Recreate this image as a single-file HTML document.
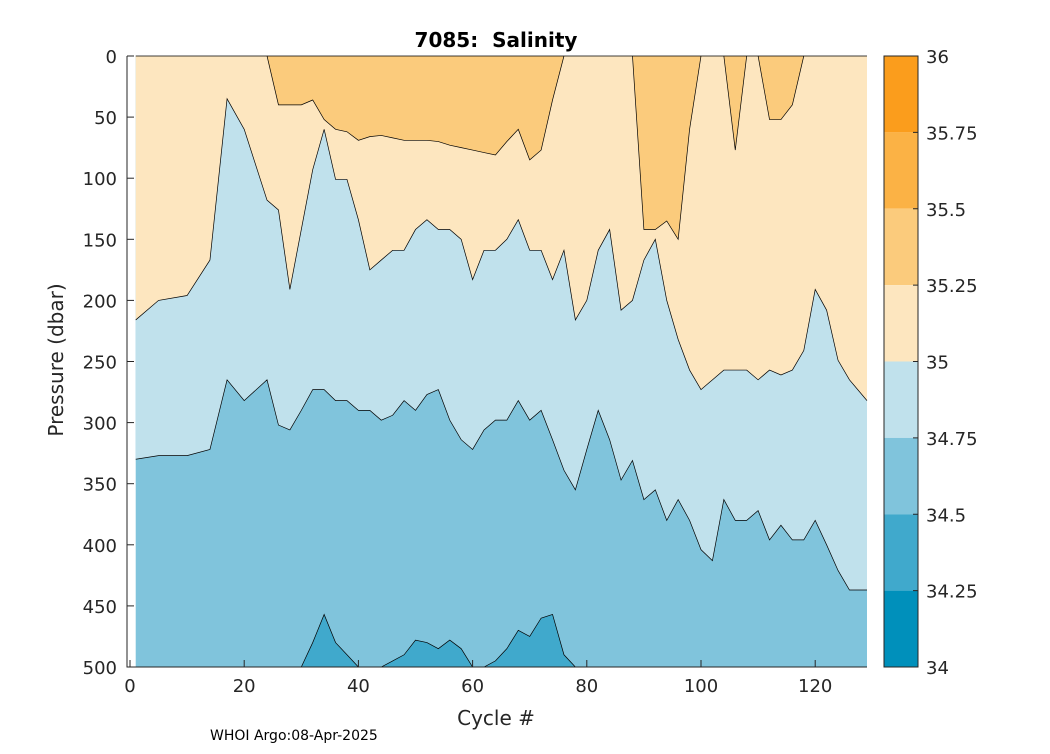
<!DOCTYPE html>
<html><head><meta charset="utf-8"><style>
body{margin:0;background:#fff;font-family:"DejaVu Sans",sans-serif}
svg text{font-family:"DejaVu Sans","Liberation Sans",sans-serif;fill:#262626}
</style></head><body>
<svg id="chart" width="1050" height="750" viewBox="0 0 1050 750" xmlns="http://www.w3.org/2000/svg">
<rect width="1050" height="750" fill="#fff"/>
<g id="plot"></g>
<g id="axes"></g>
<g id="cbar"></g>
<text x="496" y="47" text-anchor="middle" font-size="20" font-weight="bold" style="fill:#000">7085:&#160; Salinity</text>
<text x="496" y="725" text-anchor="middle" font-size="20">Cycle #</text>
<text transform="translate(63,360) rotate(-90)" text-anchor="middle" font-size="20">Pressure (dbar)</text>
<text x="210" y="740" font-size="14" style="fill:#000">WHOI Argo:08-Apr-2025</text>
</svg>
<script>
const cycles=[2,5,10,14,17,20,24,26,28,30,32,34,36,38,40,42,44,46,48,50,52,54,56,58,60,62,64,66,68,70,72,74,76,78,80,82,84,86,88,90,92,94,96,98,100,102,104,106,108,110,112,114,116,118,120,122,124,126,127];
const depth35=[216,200,196,167,35,60,118,126,191,142,93,60,101,101,134,175,167,159,159,142,134,142,142,150,183,159,159,150,134,159,159,183,159,216,200,159,142,208,200,167,150,200,232,257,273,265,257,257,257,265,257,261,257,241,191,208,249,265,282];
const depth3475=[330,327,327,322,265,282,265,302,306,290,273,273,282,282,290,290,298,294,282,290,277,273,298,314,322,306,298,298,282,298,290,314,339,355,322,290,314,347,331,363,355,380,363,380,404,413,363,380,380,372,396,384,396,396,380,400,421,437,437];
const depth3525=[0,0,0,0,0,0,0,40,40,40,36,52,60,62,69,66,65,67,69,69,69,70,73,75,77,79,81,70,60,85,77,36,0,0,0,0,0,0,0,142,142,135,150,60,0,0,0,77,0,0,52,52,40,0,0,0,0,0,0];
const depth345=[500,500,500,500,500,500,500,500,500,500,480,457,480,490,500,500,500,495,490,478,480,485,478,485,500,500,495,485,470,475,460,457,490,500,500,500,500,500,500,500,500,500,500,500,500,500,500,500,500,500,500,500,500,500,500,500,500,500,500];
const cbLevels=[36,35.75,35.5,35.25,35,34.75,34.5,34.25,34];
const cbColors=["#fb9d1c","#fbb245","#fbcb7c","#fde6bf","#c0e1ec","#80c4dc","#40a9cc","#0090bb"];
const xTicks=[0,20,40,60,80,100,120];
const yTicks=[0,50,100,150,200,250,300,350,400,450,500];

const NS="http://www.w3.org/2000/svg";
const L=130,R=867,T=56,B=667;
const xs=c=>L+c*5.71;
const ys=d=>T+d*(B-T)/500;
function mk(tag,attrs,parent){const e=document.createElementNS(NS,tag);for(const k in attrs)e.setAttribute(k,attrs[k]);parent.appendChild(e);return e;}
const plot=document.getElementById('plot');
const x0=xs(1),x1=R;
function xAt(i){if(i===0)return x0;if(i===cycles.length-1)return x1;return xs(cycles[i]);}
let e=mk('rect',{x:x0,y:T,width:x1-x0,height:B-T,fill:cbColors[5]},plot);


function bandTop(arr,color,name){
  let d=`M${x0},${T}`;arr.forEach((v,i)=>{d+=` L${xAt(i)},${ys(v)}`;});d+=` L${x1},${T} Z`;
  const p=mk('path',{d:d,fill:color,stroke:'none'},plot);
  
  
  let l='';arr.forEach((v,i)=>{l+=(i?' L':'M')+xAt(i)+','+ys(v);});
  const ln=mk('path',{d:l,fill:'none',stroke:'#000','stroke-width':0.7},plot);
  
  
}
bandTop(depth3475,cbColors[4],'band-35');
bandTop(depth35,cbColors[3],'band-35-25');
let od=`M${x0},${T}`;depth3525.forEach((v,i)=>{od+=` L${xAt(i)},${ys(v)}`;});od+=` L${x1},${T} Z`;
e=mk('path',{d:od,fill:cbColors[2],stroke:'#000','stroke-width':0.7},plot);


let bd=`M${x0},${B}`;depth345.forEach((v,i)=>{bd+=` L${xAt(i)},${ys(v)}`;});bd+=` L${x1},${B} Z`;
e=mk('path',{d:bd,fill:cbColors[6],stroke:'#000','stroke-width':0.7},plot);


const ax=document.getElementById('axes');
e=mk('path',{d:`M${L-3},${T} L${L-3},${B} L${R},${B}`,fill:'none',stroke:'#262626','stroke-width':1},ax);


xTicks.forEach(t=>{const x=xs(t);
  mk('line',{x1:x,x2:x,y1:B,y2:B-7,stroke:'#262626'},ax);
  const tx=mk('text',{x:x,y:B+25,'text-anchor':'middle','font-size':18},ax);tx.textContent=t;
  
  
});
yTicks.forEach(t=>{const y=ys(t);
  mk('line',{x1:L-3,x2:L+4,y1:y,y2:y,stroke:'#262626'},ax);
  const tx=mk('text',{x:L-13,y:y+7,'text-anchor':'end','font-size':18},ax);tx.textContent=t;
  
  
});
const cb=document.getElementById('cbar');
const CL=884,CR=918;
const cy=v=>T+(36-v)/2*(B-T);
cbColors.forEach((c,i)=>{
  const r=mk('rect',{x:CL,y:cy(cbLevels[i]),width:CR-CL,height:cy(cbLevels[i+1])-cy(cbLevels[i]),fill:c},cb);
  
  
});
mk('rect',{x:CL,y:T,width:CR-CL,height:B-T,fill:'none',stroke:'#262626'},cb);
cbLevels.forEach(v=>{const y=cy(v);
  mk('line',{x1:CR,x2:CR-5,y1:y,y2:y,stroke:'#262626'},cb);
  const tx=mk('text',{x:926,y:y+7,'font-size':18},cb);tx.textContent=v;
  
  
});
</script>
</body></html>
